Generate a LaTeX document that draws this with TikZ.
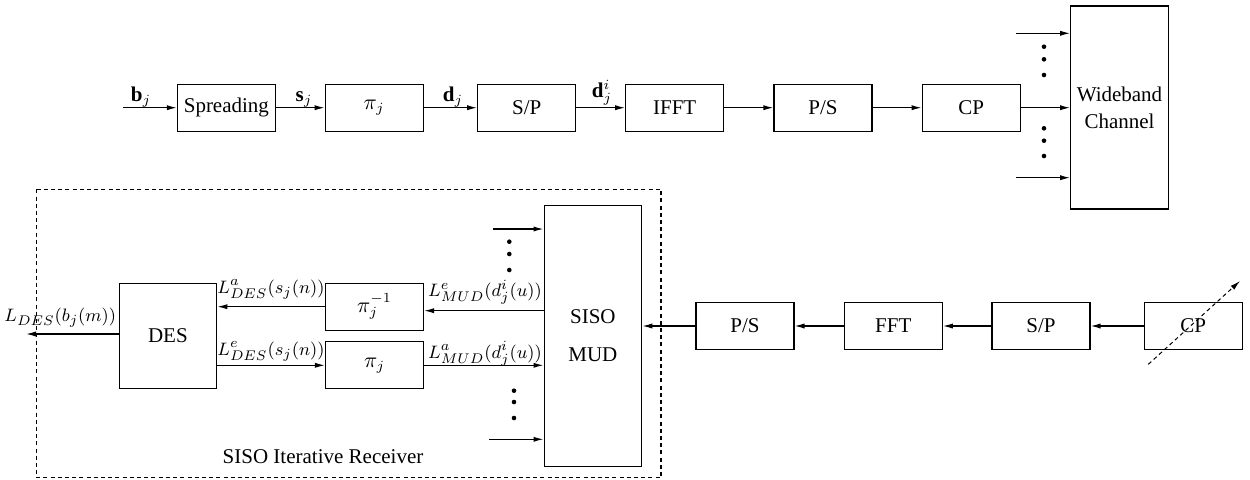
\documentclass[tikz,border=0pt]{standalone}
\usepackage{fontspec}
\setmainfont{Liberation Serif}
\usetikzlibrary{arrows.meta,calc}
\begin{document}
\begin{tikzpicture}[x=0.5pt,y=-0.5pt,
  font=\fontsize{10.5}{12.6}\selectfont,
  blk/.style={draw, line width=0.6pt, inner sep=0pt, minimum width=49pt, minimum height=23.5pt},
  arr/.style={line width=0.6pt, -{Latex[length=5pt,width=2.6pt]}},
  lbl/.style={anchor=base, inner sep=0pt},
  mlbl/.style={anchor=base, inner sep=0pt, font=\fontsize{9.3}{11}\selectfont}
]
\useasboundingbox (0,0) rectangle (1250,479);
% ---------- transmitter ----------
\node[blk] (spr) at (226.4,107.7) {Spreading};
\node[blk] (pit) at (374.2,107.7) {$\pi_j$};
\node[blk] (spt) at (526.7,107.7) {S/P};
\node[blk] (ifft) at (674.7,107.7) {IFFT};
\node[blk] (pst) at (823,107.7) {P/S};
\node[blk] (cpt) at (971.2,107.7) {CP};
\node[draw, line width=0.6pt, minimum width=48.8pt, minimum height=101.5pt, align=center, inner sep=0pt] (wbc) at (1119.5,107.5) {Wideband\\[1pt]Channel};
\coordinate (in) at (123,107.7);
\draw[arr] (in) -- (spr.west);
\draw[arr] (spr.east) -- (pit.west);
\draw[arr] (pit.east) -- (spt.west);
\draw[arr] (spt.east) -- (ifft.west);
\draw[arr] (ifft.east) -- (pst.west);
\draw[arr] (pst.east) -- (cpt.west);
\draw[arr] (cpt.east) -- (cpt.east -| wbc.west);
\coordinate (w1) at (1016,33.3);
\coordinate (w3) at (1016,177.7);
\draw[arr] (w1) -- (w1 -| wbc.west);
\draw[arr] (w3) -- (w3 -| wbc.west);
\foreach \yy in {46.7,59.3,75,128.3,140.7,156} \fill (1044,\yy) circle[radius=1.15pt];
\node[lbl] (lb) at (141,101) {$\mathbf{b}_j$};
\node[lbl] (ls) at (304,101) {$\mathbf{s}_j$};
\node[lbl] (ld) at (453,101) {$\mathbf{d}_j$};
\node[lbl] (ldi) at (602,97.5) {$\mathbf{d}_j^i$};
% ---------- receiver ----------
\draw[line width=0.6pt, dash pattern=on 2pt off 1.6pt] (36.7,189.3) rectangle (661,477.7);
\node[lbl] (rx) at (323,463) {SISO Iterative Receiver};
\node[draw, line width=0.6pt, minimum width=48.8pt, minimum height=130.8pt, align=center, inner sep=0pt] (mud) at (592.9,335.9) {SISO\\[6.5pt]MUD};
\node[draw, line width=0.6pt, minimum width=48.8pt, minimum height=52.5pt, inner sep=0pt] (des) at (167.9,335.8) {DES};
\node[blk] (piinv) at (374.5,306.7) {$\pi_j^{-1}$};
\node[blk] (pir) at (374.5,365.3) {$\pi_j$};
\node[blk] (psr) at (745,326) {P/S};
\node[blk] (fft) at (893.3,326) {FFT};
\node[blk] (spr2) at (1041,326) {S/P};
\node[blk] (cpr) at (1193.3,326) {CP};
\draw[arr] (cpr.west) -- (spr2.east);
\draw[arr] (spr2.west) -- (fft.east);
\draw[arr] (fft.west) -- (psr.east);
\draw[arr] (psr.west) -- (psr.west -| mud.east);
\coordinate (da) at (1148.3,364.3);
\coordinate (db) at (1240,281);
\draw[line width=0.5pt, dash pattern=on 2pt off 1.6pt, -{Latex[length=5pt,width=2.6pt]}] (da) -- (db);
\coordinate (m1) at (493,229);
\coordinate (m4) at (489,439.3);
\draw[arr] (m1) -- (m1 -| mud.west);
\draw[arr] (m4) -- (m4 -| mud.west);
\foreach \yy in {241.7,254,270} \fill (509.3,\yy) circle[radius=1.15pt];
\foreach \yy in {390.7,402,418} \fill (514,\yy) circle[radius=1.15pt];
\coordinate (mi) at (544,310.7);
\draw[arr] (mi) -- (mi -| piinv.east);
\draw[arr] (piinv.west) -- (piinv.west -| des.east);
\draw[arr] (des.east |- pir.west) -- (pir.west);
\draw[arr] (pir.east) -- (pir.east -| mud.west);
\coordinate (out) at (26,334);
\draw[arr] (des.west |- out) -- (out);
\node[mlbl] (l1) at (271,293) {$L^a_{DES}(s_j(n))$};
\node[mlbl] (l2) at (271,355) {$L^e_{DES}(s_j(n))$};
\node[mlbl] (l3) at (485,296.7) {$L^e_{MUD}(d^i_j(u))$};
\node[mlbl] (l4) at (485,358.3) {$L^a_{MUD}(d^i_j(u))$};
\node[mlbl] (l5) at (60.3,321.7) {$L_{DES}(b_j(m))$};
\end{tikzpicture}
\end{document}
